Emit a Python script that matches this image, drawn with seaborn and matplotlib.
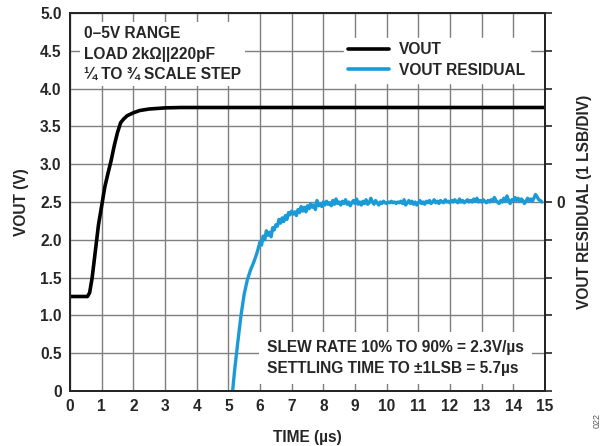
import numpy as np
import pandas as pd
import matplotlib
matplotlib.use("Agg")
import matplotlib.pyplot as plt
import seaborn as sns

# ---- data ----
vout_t = [0, 0.55, 0.62, 0.7, 0.8, 0.9, 1.0, 1.1, 1.2, 1.3, 1.4, 1.5, 1.6, 1.7,
          1.8, 2.0, 2.2, 2.5, 3.0, 3.5, 4.0, 15.0]
vout_v = [1.25, 1.25, 1.3, 1.5, 1.85, 2.2, 2.45, 2.7, 2.88, 3.05, 3.25, 3.42, 3.55,
          3.6, 3.64, 3.68, 3.71, 3.73, 3.745, 3.75, 3.75, 3.75]

res_t_early = [5.1, 5.2, 5.3, 5.4, 5.5, 5.6, 5.7, 5.8, 5.9]
res_v_early = [-0.15, 0.28, 0.65, 1.0, 1.28, 1.47, 1.6, 1.7, 1.82]

res_v_late = [
    1.97, 1.93, 2.05, 2.00, 2.12, 2.06, 2.10, 2.04, 2.16, 2.13,
    2.20, 2.18, 2.27, 2.22, 2.29, 2.24, 2.32, 2.27, 2.36, 2.33,
    2.38, 2.34, 2.37, 2.32, 2.40, 2.36, 2.44, 2.38, 2.43, 2.37,
    2.45, 2.41, 2.48, 2.43, 2.46, 2.40, 2.52, 2.45, 2.48, 2.44,
    2.50, 2.46, 2.51, 2.47, 2.49, 2.45, 2.52, 2.47, 2.54, 2.48,
    2.50, 2.46, 2.51, 2.48, 2.53, 2.47, 2.50, 2.45, 2.49, 2.52,
    2.48, 2.54, 2.47, 2.50, 2.46, 2.51, 2.48, 2.53, 2.47, 2.49,
    2.55, 2.50, 2.47, 2.52, 2.49, 2.46, 2.50, 2.48, 2.51, 2.49,
    2.48, 2.50, 2.49, 2.51, 2.49, 2.50, 2.48, 2.50, 2.49, 2.51,
    2.48, 2.53, 2.46, 2.49, 2.52, 2.48, 2.51, 2.47, 2.50, 2.46,
    2.49, 2.52, 2.48, 2.50, 2.47, 2.51, 2.49, 2.52, 2.48, 2.50,
    2.53, 2.49, 2.51, 2.48, 2.52, 2.50, 2.49, 2.53, 2.50, 2.51,
    2.49, 2.52, 2.50, 2.53, 2.51, 2.49, 2.54, 2.50, 2.52, 2.49,
    2.51, 2.53, 2.50, 2.52, 2.50, 2.54, 2.51, 2.55, 2.50, 2.52,
    2.50, 2.53, 2.51, 2.49, 2.52, 2.50, 2.53, 2.51, 2.56, 2.52,
    2.50, 2.48, 2.52, 2.50, 2.55, 2.51, 2.58, 2.52, 2.48, 2.53,
    2.51, 2.56, 2.52, 2.55, 2.51, 2.54, 2.52, 2.48, 2.51, 2.55,
    2.52, 2.54, 2.51, 2.55, 2.60, 2.57, 2.53, 2.52, 2.50,
]
res_t_late = [round(6.0 + 0.05 * i, 2) for i in range(len(res_v_late))]

x_ticks = list(range(0, 16))
y_ticks = [0, 0.5, 1.0, 1.5, 2.0, 2.5, 3.0, 3.5, 4.0, 4.5, 5.0]
y_ticklabels = ["0", "0.5", "1.0", "1.5", "2.0", "2.5", "3.0", "3.5", "4.0", "4.5", "5.0"]

BLUE = "#1a9bd7"
FS = 11.2

sns.set_style("white")
plt.rcParams['font.family'] = ['Liberation Sans', 'DejaVu Sans']
plt.rcParams['font.weight'] = 'bold'

fig = plt.figure(figsize=(6.06, 4.46), dpi=100)
ax = fig.add_axes([70/606, 1 - 391/446, 475/606, 378/446])

df_v = pd.DataFrame({"t": vout_t, "v": vout_v})
df_r = pd.DataFrame({"t": res_t_early + res_t_late, "v": res_v_early + res_v_late})
sns.lineplot(data=df_v, x="t", y="v", ax=ax, color="black", lw=2.6, label="VOUT", zorder=4)
sns.lineplot(data=df_r, x="t", y="v", ax=ax, color=BLUE, lw=2.4, label="VOUT RESIDUAL", zorder=3)

ax.set_xlim(0, 15)
ax.set_ylim(0, 5)
ax.set_xticks(x_ticks)
ax.set_xticklabels([str(v) for v in x_ticks], fontsize=FS, fontweight='bold')
ax.set_yticks(y_ticks)
ax.set_yticklabels(y_ticklabels, fontsize=FS, fontweight='bold')
ax.grid(True, color="#7f7f7f", lw=1.0)
ax.set_axisbelow(True)
for s in ax.spines.values():
    s.set_color("black")
    s.set_linewidth(1.4)
ax.tick_params(axis='both', length=0, pad=6)

ax.set_xlabel("TIME (µs)", fontsize=FS, fontweight='bold', labelpad=11)
ax.set_ylabel("VOUT (V)", fontsize=FS, fontweight='bold', labelpad=8)

ax2 = ax.twinx()
ax2.set_ylim(0, 5)
ax2.set_yticks(y_ticks)
ax2.set_yticklabels(["" if v != 2.5 else "0" for v in y_ticks], fontsize=FS, fontweight='bold')
ax2.tick_params(axis='y', direction='out', length=5, width=1.2, pad=3)
ax2.set_ylabel("VOUT RESIDUAL (1 LSB/DIV)", fontsize=FS, fontweight='bold', labelpad=9)
for s in ax2.spines.values():
    s.set_linewidth(1.4)
ax2.grid(False)

leg = ax.legend(loc="upper left", bbox_to_anchor=(0.56, 0.955), frameon=True,
                fontsize=FS, handlelength=2.6, handletextpad=0.65,
                borderpad=0.3, labelspacing=0.35)
leg.get_frame().set_edgecolor("white")
leg.get_frame().set_facecolor("white")
leg.get_frame().set_alpha(1)
for txt in leg.get_texts():
    txt.set_fontweight('bold')
for ln in leg.get_lines():
    ln.set_linewidth(2.6)

ax.text(0.03, 0.965, "0–5V RANGE\nLOAD 2kΩ||220pF\n¼ TO ¾ SCALE STEP",
        transform=ax.transAxes, va="top", ha="left", fontsize=FS, fontweight='bold',
        linespacing=1.45, zorder=5,
        bbox=dict(facecolor="white", edgecolor="none", pad=3))
ax.text(0.415, 0.04, "SLEW RATE 10% TO 90% = 2.3V/µs\nSETTLING TIME TO ±1LSB = 5.7µs",
        transform=ax.transAxes, va="bottom", ha="left", fontsize=FS, fontweight='bold',
        linespacing=1.45, zorder=5,
        bbox=dict(facecolor="white", edgecolor="none", pad=6))

fig.text(597/606, 1 - 420/446, "022", rotation=90, fontsize=6.5, color="#555555",
         ha="center", va="center", fontweight='normal')

fig.savefig("out.png", dpi=100)
